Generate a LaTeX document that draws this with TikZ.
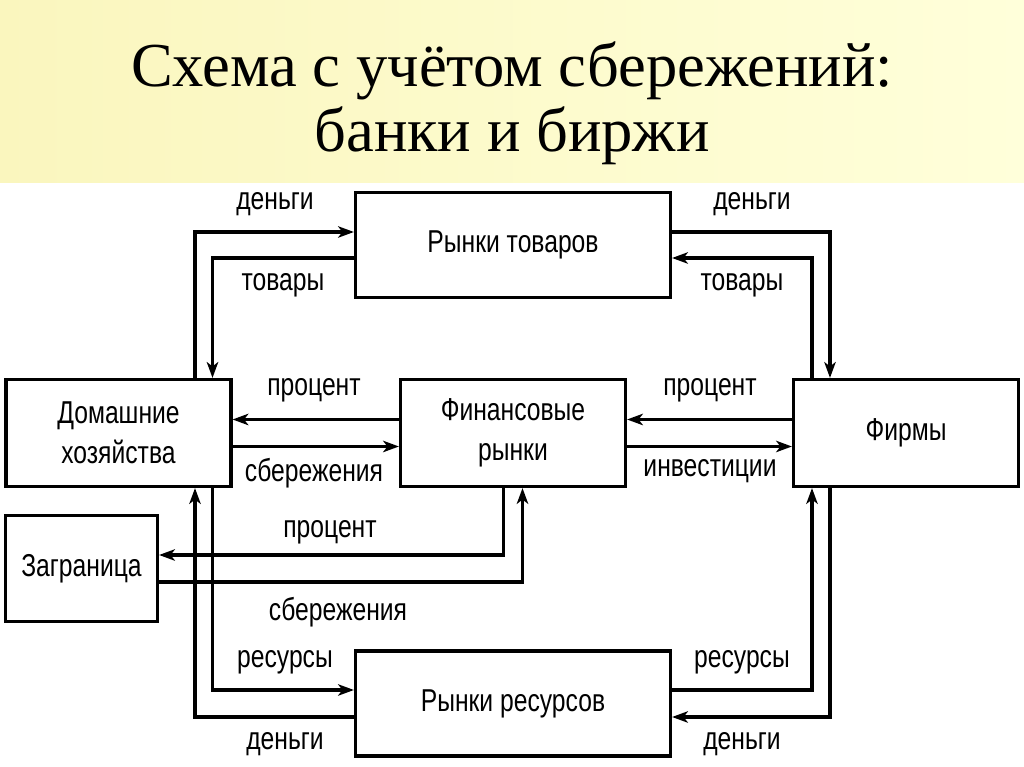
\documentclass[tikz,border=0pt]{standalone}
\usepackage{fontspec}
\setmainfont{Liberation Sans}[FakeStretch=0.78]
\newfontfamily\titlefont{Liberation Serif}
\usetikzlibrary{arrows.meta,positioning}
\definecolor{bandleft}{RGB}{250,246,190}
\definecolor{bandright}{RGB}{255,255,218}

\begin{document}
\begin{tikzpicture}[->,>={Stealth[length=9pt,width=6.5pt,inset=2.5pt]},line width=1.8pt]
\tikzstyle{box}=[shape=rectangle,draw,line width=1.8pt,text=black,align=center,font=\fontsize{18}{23}\selectfont]
\tikzstyle{lbl}=[font=\fontsize{18}{23}\selectfont]

% page and title band
\useasboundingbox (0,0) rectangle (20.48,-15.34);
\fill[left color=bandleft,right color=bandright] (0,0) rectangle (20.48,-3.66);
\node (t1) at (10.24,-1.42) {\titlefont\fontsize{35.6}{40}\selectfont Схема с учётом сбережений:};
\node (t2) at (10.24,-2.72) {\titlefont\fontsize{35.6}{40}\selectfont банки и биржи};

% boxes
\node[box,minimum width=4.5cm,minimum height=2.14cm] (hh) at (2.37,-8.66) {Домашние\\хозяйства};
\node[box,minimum width=4.5cm,minimum height=2.14cm] (fin) [right of=hh,node distance=7.89cm] {Финансовые\\рынки};
\node[box,minimum width=4.5cm,minimum height=2.14cm] (firm) [right of=fin,node distance=7.86cm] {Фирмы};
\node[box,minimum width=6.3cm,minimum height=2.1cm] (goods) [above of=fin,node distance=3.76cm] {Рынки товаров};
\node[box,minimum width=6.3cm,minimum height=2.1cm] (res) [below of=fin,node distance=5.41cm] {Рынки ресурсов};
\node[box,minimum width=3.04cm,minimum height=2.12cm] (abroad) [below of=hh,node distance=2.71cm,xshift=-0.74cm] {Заграница};

% goods market
\draw ([xshift=1.53cm]hh.north) |- ([yshift=0.26cm]goods.west);
\draw ([yshift=-0.26cm]goods.west) -| ([xshift=1.88cm]hh.north);
\draw ([yshift=0.26cm]goods.east) -| ([xshift=-1.52cm]firm.north);
\draw ([xshift=-1.88cm]firm.north) |- ([yshift=-0.26cm]goods.east);

% financial markets
\draw ([yshift=0.27cm]fin.west) -- ([yshift=0.27cm]hh.east);
\draw ([yshift=-0.27cm]hh.east) -- ([yshift=-0.27cm]fin.west);
\draw ([yshift=0.27cm]firm.west) -- ([yshift=0.27cm]fin.east);
\draw ([yshift=-0.27cm]fin.east) -- ([yshift=-0.27cm]firm.west);
\draw ([xshift=-0.19cm]fin.south) |- ([yshift=0.27cm]abroad.east);
\draw ([yshift=-0.27cm]abroad.east) -| ([xshift=0.19cm]fin.south);

% resource market
\draw ([xshift=1.88cm]hh.south) |- ([yshift=0.27cm]res.west);
\draw ([yshift=-0.27cm]res.west) -| ([xshift=1.53cm]hh.south);
\draw ([yshift=0.27cm]res.east) -| ([xshift=-1.88cm]firm.south);
\draw ([xshift=-1.52cm]firm.south) |- ([yshift=-0.27cm]res.east);

% labels
\node[lbl] (m1) at (5.5,-4.08) {деньги};
\node[lbl] (g1) at (5.66,-5.7) {товары};
\node[lbl] (m2) at (15.04,-4.08) {деньги};
\node[lbl] (g2) at (14.84,-5.7) {товары};
\node[lbl] (p1) at (6.28,-7.8) {процент};
\node[lbl] (s1) at (6.28,-9.46) {сбережения};
\node[lbl] (p2) at (14.2,-7.8) {процент};
\node[lbl] (i2) at (14.2,-9.42) {инвестиции};
\node[lbl] (p3) at (6.6,-10.64) {процент};
\node[lbl] (s3) at (6.76,-12.24) {сбережения};
\node[lbl] (r1) at (5.7,-13.24) {ресурсы};
\node[lbl] (m3) at (5.7,-14.88) {деньги};
\node[lbl] (r2) at (14.84,-13.24) {ресурсы};
\node[lbl] (m4) at (14.84,-14.88) {деньги};
\end{tikzpicture}
\end{document}
